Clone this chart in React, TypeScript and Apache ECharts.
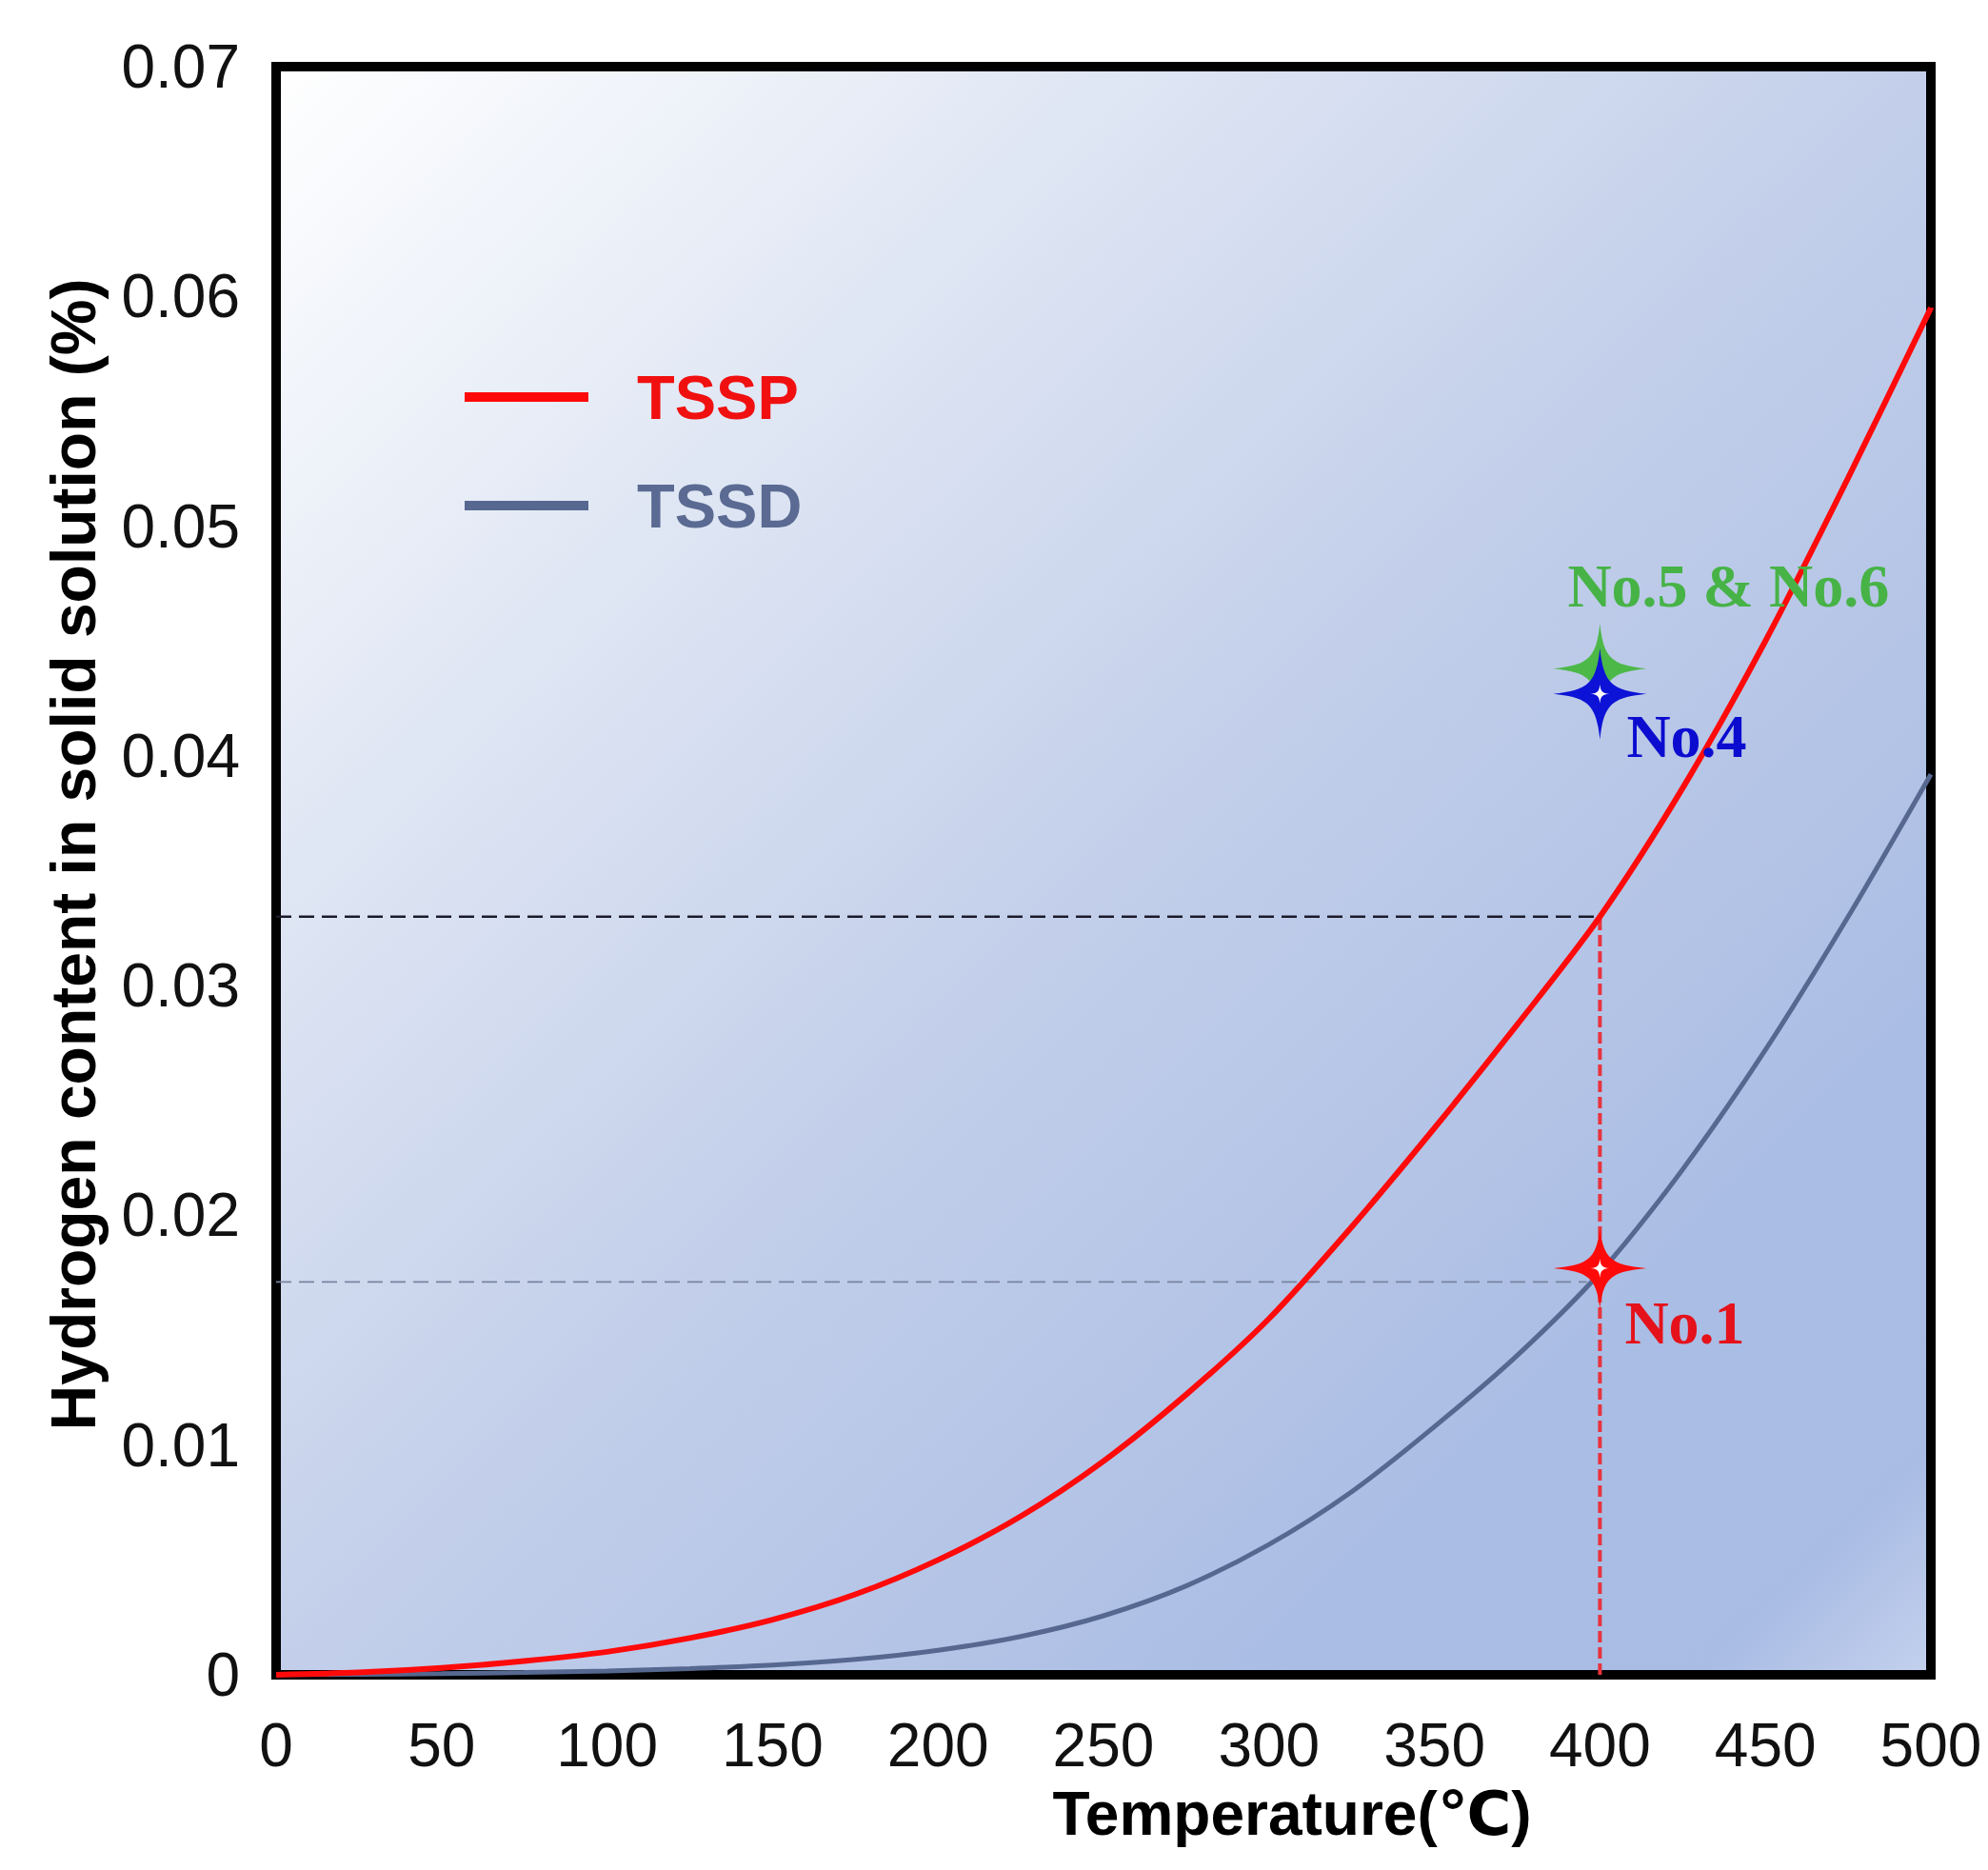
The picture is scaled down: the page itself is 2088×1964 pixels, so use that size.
import React, { useEffect, useRef } from "react";
import * as echarts from "echarts";

// Temperature (°C) grid used to read the curves
const temps = [0, 25, 50, 75, 100, 125, 150, 175, 200, 225, 250, 275, 300, 325, 350, 375, 400, 425, 450, 475, 500];
// Terminal solid solubility for precipitation (TSSP), %
const tsspValues = [0, 0.0001, 0.0003, 0.0006, 0.001, 0.0016, 0.0024, 0.0035, 0.005, 0.0069, 0.0093, 0.0122, 0.0155, 0.0195, 0.0238, 0.0283, 0.033, 0.0386, 0.045, 0.0521, 0.0595];
// Terminal solid solubility for dissolution (TSSD), %
const tssdValues = [0, 0.00002, 0.00005, 0.0001, 0.00017, 0.00027, 0.00042, 0.00067, 0.00107, 0.00167, 0.00257, 0.00387, 0.00567, 0.00797, 0.0108, 0.0139, 0.0175, 0.022, 0.0272, 0.033, 0.0392];

// Sample points [temperature, hydrogen %]
const sampleNo1 = [400, 0.0177];
const sampleNo4 = [400, 0.0427];
const sampleNo56 = [400, 0.0438];

// Reference (dashed) guide lines
const guideTsspLevel = 0.033;
const guideTssdLevel = 0.0171;
const guideTemp = 400;
const guideTssdEndTemp = 396;

const yTicks = { min: 0, max: 0.07, interval: 0.01 };
const xTicks = { min: 0, max: 500, interval: 50 };

const STAR =
  "path://M0,-50 C4,-12 12,-4 50,0 C12,4 4,12 0,50 C-4,12 -12,4 -50,0 C-12,-4 -4,-12 0,-50Z";

export default function App() {
  const ref = useRef<HTMLDivElement>(null);

  useEffect(() => {
    document.body.style.margin = "0";
    const chart = echarts.init(ref.current!, undefined, { renderer: "svg" });
    const sans = "'Liberation Sans', Arial, 'DejaVu Sans', sans-serif";
    const serif = "'Liberation Serif', 'Times New Roman', serif";

    const tssp = temps.map((t, i) => [t, tsspValues[i]]);
    const tssd = temps.map((t, i) => [t, tssdValues[i]]);

    const starLabel = (text: string, color: string, offset: number[]) => ({
      show: true,
      formatter: text,
      position: "inside",
      align: "left",
      verticalAlign: "middle",
      offset,
      color,
      opacity: 1,
      fontFamily: serif,
      fontWeight: "bold",
      fontSize: 64,
    });

    chart.setOption({
      animation: false,
      backgroundColor: "#ffffff",
      grid: {
        left: 290,
        top: 70,
        width: 1738,
        height: 1689,
        show: true,
        borderColor: "#000000",
        borderWidth: 10,
        backgroundColor: new echarts.graphic.LinearGradient(0, 0, 1, 1, [
          { offset: 0, color: "#ffffff" },
          { offset: 0.25, color: "#e0e7f4" },
          { offset: 0.5, color: "#c3cfea" },
          { offset: 0.8, color: "#aabde4" },
          { offset: 0.93, color: "#a9bce4" },
          { offset: 1, color: "#c4d1ee" },
        ]),
      },
      legend: {
        orient: "vertical",
        left: 488,
        top: 382,
        padding: 0,
        itemWidth: 130,
        itemHeight: 10,
        itemGap: 44,
        icon: "rect",
        textStyle: {
          fontSize: 65,
          fontWeight: "bold",
          fontFamily: sans,
          lineHeight: 70,
          padding: [0, 0, 0, 46],
        },
        data: [
          { name: "TSSP", textStyle: { color: "#f01010" } },
          { name: "TSSD", textStyle: { color: "#5a6a92" } },
        ],
      },
      xAxis: {
        type: "value",
        min: xTicks.min,
        max: xTicks.max,
        interval: xTicks.interval,
        name: "Temperature(℃)",
        nameLocation: "middle",
        nameGap: 114,
        nameTextStyle: {
          fontSize: 64,
          fontWeight: "bold",
          fontFamily: sans,
          color: "#000",
          padding: [0, 0, 0, 396],
        },
        axisLine: { show: false },
        axisTick: { show: false },
        splitLine: { show: false },
        axisLabel: { fontSize: 64, fontFamily: sans, color: "#111", margin: 42 },
      },
      yAxis: {
        type: "value",
        min: yTicks.min,
        max: yTicks.max,
        interval: yTicks.interval,
        name: "Hydrogen content in solid solution (%)",
        nameLocation: "middle",
        nameGap: 180,
        nameTextStyle: {
          fontSize: 66,
          fontWeight: "bold",
          fontFamily: sans,
          color: "#000",
          padding: [0, 0, 0, 34],
        },
        axisLine: { show: false },
        axisTick: { show: false },
        splitLine: { show: false },
        axisLabel: {
          fontSize: 64,
          fontFamily: sans,
          color: "#111",
          margin: 38,
          formatter: (v: number) => (v === 0 ? "0" : v.toFixed(2)),
        },
      },
      series: [
        {
          name: "guide-tssp",
          type: "line",
          data: [
            [0, guideTsspLevel],
            [guideTemp, guideTsspLevel],
          ],
          symbol: "none",
          lineStyle: { color: "#1a1a2a", width: 2.5, type: [16, 8] },
          silent: true,
          z: 2,
        },
        {
          name: "guide-tssd",
          type: "line",
          data: [
            [0, guideTssdLevel],
            [guideTssdEndTemp, guideTssdLevel],
          ],
          symbol: "none",
          lineStyle: { color: "#7884a0", width: 1.8, type: [16, 8] },
          silent: true,
          z: 2,
        },
        {
          name: "guide-temp",
          type: "line",
          data: [
            [guideTemp, 0],
            [guideTemp, guideTsspLevel],
          ],
          symbol: "none",
          lineStyle: { color: "#e8333d", width: 4, type: [12, 5] },
          silent: true,
          z: 2,
        },
        {
          name: "TSSD",
          type: "line",
          data: tssd,
          symbol: "none",
          smooth: 0.3,
          color: "#56688f",
          lineStyle: { color: "#56688f", width: 5 },
          z: 3,
        },
        {
          name: "TSSP",
          type: "line",
          data: tssp,
          symbol: "none",
          smooth: 0.3,
          color: "#ff0a0a",
          lineStyle: { color: "#ff0a0a", width: 6 },
          z: 4,
        },
        {
          name: "No.5 & No.6",
          type: "scatter",
          data: [sampleNo56],
          symbol: STAR,
          symbolSize: [98, 94],
          itemStyle: { color: "#4cb848", opacity: 1 },
          label: starLabel("No.5 & No.6", "#47b347", [-34, -87]),
          z: 5,
        },
        {
          name: "No.4",
          type: "scatter",
          data: [sampleNo4],
          symbol: STAR,
          symbolSize: [98, 96],
          itemStyle: { color: "#0c12d6", opacity: 1 },
          label: starLabel("No.4", "#0c0cd0", [28, 45]),
          z: 6,
        },
        {
          name: "No.1",
          type: "scatter",
          data: [sampleNo1],
          symbol: STAR,
          symbolSize: [98, 84],
          itemStyle: { color: "#ff0a0a", opacity: 1 },
          label: starLabel("No.1", "#e5121b", [26, 58]),
          z: 6,
        },
        {
          name: "sparkle",
          type: "scatter",
          data: [sampleNo4, sampleNo1],
          symbol: STAR,
          symbolSize: 20,
          itemStyle: { color: "#ffffff", opacity: 1 },
          silent: true,
          z: 7,
        },
      ],
    });
    return () => chart.dispose();
  }, []);

  return <div ref={ref} style={{ width: 2088, height: 1964 }} />;
}
